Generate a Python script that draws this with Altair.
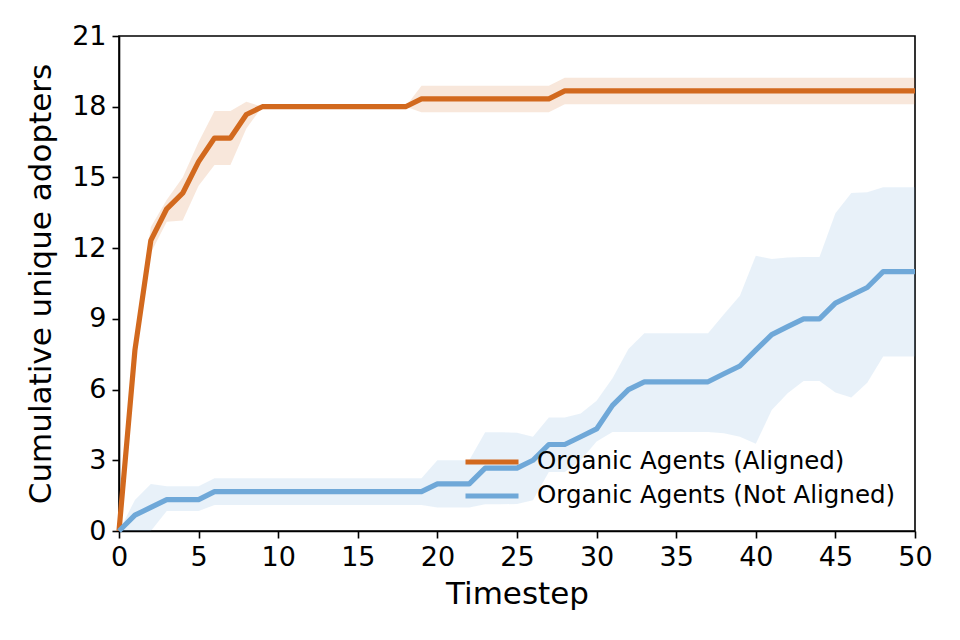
import altair as alt
import pandas as pd

timesteps = list(range(0, 51))

aligned_mean = [0, 7.67, 12.33, 13.67, 14.33, 15.67, 16.67, 16.67, 17.67] + [18.0] * 10 + [18.33] * 9 + [18.67] * 23
aligned_lo = [0, 7.1, 11.8, 13.12, 13.17, 14.65, 15.53, 15.53, 17.08] + [18.0] * 10 + [17.76] * 9 + [18.1] * 23
aligned_hi = [0, 8.2, 12.9, 14.05, 15.0, 16.5, 17.82, 17.82, 18.21] + [18.0] * 10 + [18.89] * 9 + [19.23] * 23

notal_mean = [0, 0.67, 1.0, 1.33, 1.33, 1.33] + [1.67] * 14 + [2.0, 2.0, 2.0, 2.67, 2.67, 2.67, 3.0, 3.67, 3.67, 4.0,
              4.33, 5.33, 6.0, 6.33, 6.33, 6.33, 6.33, 6.33, 6.67, 7.0,
              7.67, 8.33, 8.67, 9.0, 9.0, 9.67, 10.0, 10.33, 11.0, 11.0, 11.0]
notal_lo = [0, 0.0, 0.0, 0.85, 0.85, 0.85] + [1.1] * 14 + [1.0, 1.0, 1.0, 1.13, 1.13, 1.15, 1.3, 2.5, 2.5, 3.0,
            3.8, 4.2, 4.2, 4.2, 4.2, 4.2, 4.2, 4.2, 4.15, 4.0,
            3.7, 5.13, 5.84, 6.36, 6.36, 5.88, 5.66, 6.29, 7.4, 7.4, 7.4]
notal_hi = [0, 1.31, 1.99, 1.9, 1.9, 1.9] + [2.24] * 14 + [3.0, 3.0, 3.0, 4.19, 4.19, 4.17, 4.0, 4.81, 4.81, 4.99,
            5.53, 6.48, 7.72, 8.39, 8.39, 8.39, 8.39, 8.39, 9.2, 9.98,
            11.68, 11.54, 11.6, 11.62, 11.62, 13.48, 14.34, 14.37, 14.58, 14.58, 14.58]

series_names = ["Organic Agents (Aligned)", "Organic Agents (Not Aligned)"]
series_colors = ["#d2691e", "#6fa8d8"]
x_ticks = list(range(0, 51, 5))
y_ticks = list(range(0, 22, 3))

rows = []
for name, m, lo, hi in [(series_names[0], aligned_mean, aligned_lo, aligned_hi),
                        (series_names[1], notal_mean, notal_lo, notal_hi)]:
    for t, a, b, c in zip(timesteps, m, lo, hi):
        rows.append({"t": t, "mean": a, "lo": b, "hi": c, "series": name})
df = pd.DataFrame(rows)

color_scale = alt.Scale(domain=series_names, range=series_colors)
legend = alt.Legend(title=None, orient="none", legendX=344, legendY=411,
                    symbolType="stroke", symbolSize=2809, symbolStrokeWidth=5, symbolOpacity=1,
                    labelFontSize=24.5, labelFont="DejaVu Sans", labelColor="black",
                    labelOffset=16, padding=0, rowPadding=4, clipHeight=30,
                    labelLimit=500)
xs = alt.X("t:Q", scale=alt.Scale(domain=[0, 50], nice=False, zero=False),
           axis=alt.Axis(values=x_ticks, title="Timestep", titlePadding=9))
ys = alt.Y("mean:Q", scale=alt.Scale(domain=[0, 21], nice=False),
           axis=alt.Axis(values=y_ticks, title="Cumulative unique adopters", titlePadding=14))

band = alt.Chart(df).mark_area(opacity=0.16).encode(
    x=xs,
    y=alt.Y("lo:Q", scale=alt.Scale(domain=[0, 21], nice=False)),
    y2="hi:Q",
    color=alt.Color("series:N", scale=color_scale, sort=series_names, legend=legend),
    detail="series:N",
)

line = alt.Chart(df).mark_line(strokeWidth=5.2, strokeJoin="round").encode(
    x=xs,
    y=ys,
    color=alt.Color("series:N", scale=color_scale, sort=series_names, legend=legend),
    order="t:Q",
)

chart = alt.layer(band, line).properties(
    width=796, height=495,
    autosize=alt.AutoSizeParams(type="none"),
    padding={"left": 111, "top": 28, "right": 30, "bottom": 90},
    background="white",
).configure_view(
    stroke="black", strokeWidth=1.6
).configure_axis(
    grid=False, domainColor="black", domainWidth=1.6, tickColor="black", tickWidth=1.6,
    tickSize=7, labelPadding=6, labelFontSize=27, labelFont="DejaVu Sans", labelColor="black",
    titleFontSize=31, titleFont="DejaVu Sans", titleFontWeight="normal", titleColor="black",
    labelFlush=False,
)

chart.save("out.html", embed_options={"renderer": "svg", "actions": False})
